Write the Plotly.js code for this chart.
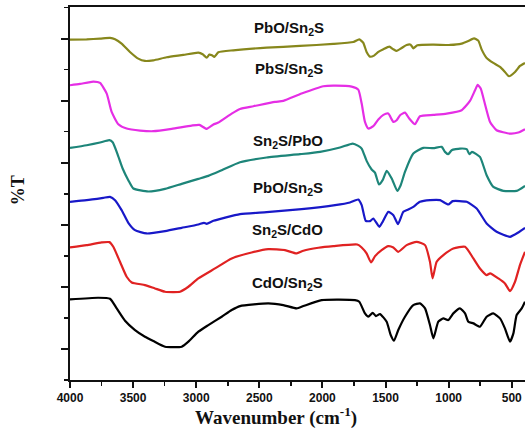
<!DOCTYPE html>
<html>
<head>
<meta charset="utf-8">
<script src="https://cdn.plot.ly/plotly-3.0.1.min.js"></script>
<style>html,body{margin:0;padding:0;background:#fff;}#chart{width:525px;height:436px;}</style>
</head>
<body>
<div id="chart"></div>
<script>
// Wavenumber (cm-1) and %T (arbitrary, vertically offset)
const oliveWn = [4000,3868,3762,3683,3643,3591,3525,3459,3406,3340,3234,3102,2983,2949,2917,2896,2875,2856,2825,2706,2442,2178,1914,1755,1708,1676,1650,1623,1591,1557,1517,1470,1438,1412,1372,1333,1301,1280,1248,1121,989,897,844,799,765,738,699,646,593,554,522,474,435,395];
const oliveT  = [102.2,102.3,102.5,102.7,102.3,101.0,98.5,96.5,95.8,96.0,96.9,97.6,98.3,97.8,96.8,97.7,97.5,97.0,98.4,99.0,99.8,100.3,100.9,101.5,102.3,101.2,98.5,97.1,97.4,98.5,99.3,100.1,99.3,98.8,99.7,100.6,100.7,99.6,100.5,100.7,100.6,101.0,101.8,102.6,101.9,99.2,96.7,95.2,94.0,92.5,91.2,92.5,94.3,95.2];

const magentaWn = [4000,3921,3815,3762,3709,3670,3617,3551,3445,3340,3194,3036,2975,2917,2864,2825,2719,2653,2547,2376,2310,2165,1993,1914,1768,1716,1689,1663,1636,1597,1557,1517,1478,1438,1412,1385,1346,1312,1267,1227,1121,1016,897,831,791,770,746,720,672,620,514,448,395];
const magentaT  = [88.5,88.9,89.6,89.2,86.0,80.5,76.8,75.5,74.9,74.7,75.4,76.4,76.6,75.4,76.7,77.3,80.0,81.4,82.2,83.5,83.8,86.0,88.2,88.4,88.1,87.2,83.0,77.5,75.5,76.2,78.2,79.6,80.0,77.5,78.0,79.5,80.3,78.5,76.8,79.2,79.6,80.0,81.0,83.8,87.0,88.6,87.5,84.0,77.5,75.0,74.0,74.3,75.3];

const tealWn = [4000,3868,3762,3688,3662,3625,3583,3538,3498,3379,3247,3115,2983,2904,2798,2653,2442,2178,2019,1861,1760,1716,1689,1650,1610,1583,1552,1523,1491,1451,1407,1380,1346,1280,1201,1121,1055,1029,1003,976,910,857,836,815,752,699,646,567,461,395];
const tealT  = [69.7,70.5,71.3,72.0,71.4,68.0,63.5,60.0,57.5,56.6,57.4,58.9,60.4,61.3,63.0,65.4,66.8,67.8,68.5,69.8,71.0,70.3,69.5,65.8,63.2,62.2,58.7,60.0,62.8,60.5,56.8,58.5,62.5,68.0,69.7,69.6,70.0,68.5,67.8,69.0,69.5,69.3,67.8,68.5,67.0,61.5,58.0,56.8,56.8,58.3];

const blueWn = [4000,3868,3736,3683,3643,3591,3538,3485,3393,3247,3115,2983,2938,2917,2864,2653,2442,2165,1900,1782,1716,1689,1657,1623,1597,1549,1523,1478,1438,1401,1359,1320,1280,1227,1147,1068,1003,968,857,778,699,620,514,448,395];
const blueT  = [53.5,54.0,54.7,55.0,54.0,51.0,47.2,45.0,44.0,44.7,45.7,46.7,47.2,46.9,47.8,49.8,50.4,51.3,52.5,53.3,54.2,52.5,47.8,47.7,48.5,46.0,47.5,50.5,49.5,46.8,50.5,51.2,52.0,53.5,54.0,54.0,52.7,53.7,53.5,51.5,47.0,44.5,43.0,44.3,45.7];

const redWn = [4000,3868,3749,3688,3657,3604,3551,3511,3406,3327,3247,3128,3062,2983,2851,2719,2561,2429,2297,2204,2151,2032,1914,1724,1689,1650,1615,1583,1531,1478,1438,1399,1333,1253,1187,1148,1127,1095,1042,963,870,804,752,699,672,606,554,514,474,435,395];
const redT  = [39.8,40.5,41.3,41.4,40.0,35.5,31.0,29.3,28.5,27.5,26.5,26.5,28.0,30.5,33.5,36.5,38.3,39.3,39.0,38.0,38.8,39.7,40.2,40.7,39.8,38.0,35.3,37.2,39.0,40.2,39.8,38.5,40.5,41.5,40.5,35.5,30.5,35.5,37.5,39.5,40.0,36.5,33.5,31.5,32.0,30.5,29.0,26.7,29.5,34.5,38.5];

const blackWn = [4000,3776,3683,3630,3564,3485,3406,3340,3247,3115,3062,2983,2904,2798,2719,2653,2429,2310,2204,2151,2006,1742,1708,1663,1636,1602,1576,1544,1491,1459,1433,1399,1346,1280,1227,1187,1148,1121,1082,1042,1003,963,910,870,844,804,752,699,646,593,554,514,487,461,421,395];
const blackT  = [24.2,24.7,24.4,21.5,17.8,15.0,13.0,11.7,10.0,10.0,11.5,14.5,16.5,19.0,21.0,22.2,23.0,22.5,21.5,22.2,24.0,24.0,23.5,20.0,19.0,20.2,19.2,19.8,17.5,13.5,11.8,15.0,19.0,22.5,23.0,21.5,16.5,12.5,17.5,18.5,18.0,20.0,21.5,20.0,17.5,17.0,16.0,19.0,20.0,18.5,15.5,11.5,14.0,19.5,21.5,23.5];

const seriesNames = ['PbO/Sn2S (a)','PbS/Sn2S','Sn2S/PbO','PbO/Sn2S (b)','Sn2S/CdO','CdO/Sn2S'];
const labelTexts = ['PbO/Sn<sub>2</sub>S','PbS/Sn<sub>2</sub>S','Sn<sub>2</sub>S/PbO','PbO/Sn<sub>2</sub>S','Sn<sub>2</sub>S/CdO','CdO/Sn<sub>2</sub>S'];
const labelWn = [2262,2262,2275,2275,2278,2278];
const labelT  = [105.6,93.2,71.6,57.4,44.9,28.9];
const xTickVals = [4000,3500,3000,2500,2000,1500,1000,500];

const colors = ['#87871c','#e52ee5','#1d8579','#1818c8','#e02222','#000000'];
const xs = [oliveWn,magentaWn,tealWn,blueWn,redWn,blackWn];
const ys = [oliveT,magentaT,tealT,blueT,redT,blackT];

const traces = xs.map((x,i)=>({
  x:x, y:ys[i], type:'scatter', mode:'lines', name:seriesNames[i],
  line:{color:colors[i], width:2.2, shape:'spline', smoothing:0.5}, hoverinfo:'skip'
}));

const annotations = labelTexts.map((t,i)=>({
  x:labelWn[i], y:labelT[i], xref:'x', yref:'y', text:t, showarrow:false,
  xanchor:'center', yanchor:'middle',
  font:{family:'Liberation Sans, Arial, sans-serif', size:15, color:'#111', weight:'bold'}
}));
annotations.push({
  x:0.453, y:-0.097, xref:'paper', yref:'paper', text:'Wavenumber (cm<sup>-1</sup>)',
  showarrow:false, xanchor:'center', yanchor:'middle',
  font:{family:'Liberation Serif, Times New Roman, serif', size:19, color:'#111', weight:'bold'}
});
annotations.push({
  x:-0.114, y:0.509, xref:'paper', yref:'paper', text:'%T', textangle:-90,
  showarrow:false, xanchor:'center', yanchor:'middle',
  font:{family:'Liberation Serif, Times New Roman, serif', size:18, color:'#111', weight:'bold'}
});

const layout = {
  width:525, height:436,
  margin:{l:70, r:0, t:7, b:56},
  paper_bgcolor:'#fff', plot_bgcolor:'#fff',
  showlegend:false,
  xaxis:{
    range:[4000,395], tickvals:xTickVals, ticktext:xTickVals.map(String),
    showline:true, linecolor:'#111', linewidth:2, mirror:true,
    ticks:'outside', ticklen:6, tickwidth:2, tickcolor:'#111',
    minor:{dtick:250, tick0:0, ticks:'outside', ticklen:4, tickwidth:1.5, tickcolor:'#111', showgrid:false},
    showgrid:false, zeroline:false,
    tickfont:{family:'Liberation Sans, Arial, sans-serif', size:12, color:'#111', weight:'bold'}
  },
  yaxis:{
    range:[0,112], tick0:9.32, dtick:18.64, showticklabels:false,
    showline:true, linecolor:'#111', linewidth:2,
    ticks:'outside', ticklen:7, tickwidth:2, tickcolor:'#111',
    minor:{tick0:0, dtick:9.32, ticks:'outside', ticklen:4, tickwidth:1.5, tickcolor:'#111', showgrid:false},
    showgrid:false, zeroline:false
  },
  annotations:annotations
};

Plotly.newPlot('chart', traces, layout, {staticPlot:true, displayModeBar:false});
</script>
</body>
</html>
